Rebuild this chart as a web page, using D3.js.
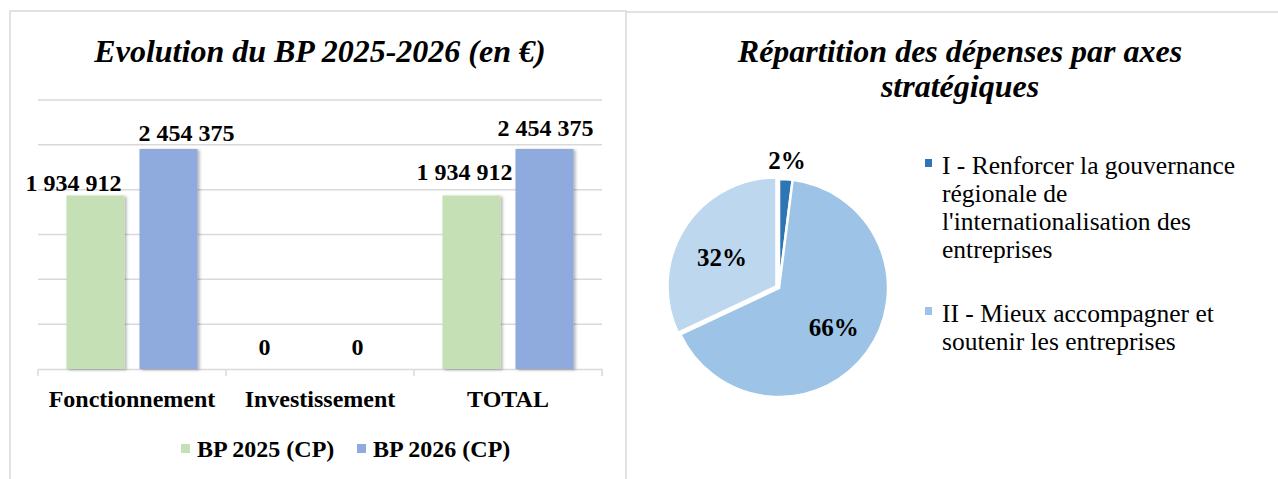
<!DOCTYPE html>
<html>
<head>
<meta charset="utf-8">
<script src="https://cdn.jsdelivr.net/npm/d3@7"></script>
<style>
  body { margin: 0; background: #fff; }
  svg { display: block; font-family: "Liberation Serif", "Times New Roman", serif; }
</style>
</head>
<body>
<div class="chart"></div>
<script>
// --- data ---
const categories = ["Fonctionnement", "Investissement", "TOTAL"];
const series = ["BP 2025 (CP)", "BP 2026 (CP)"];
const bp2025 = [1934912, 0, 1934912];
const bp2026 = [2454375, 0, 2454375];
const yTicks = [0, 500000, 1000000, 1500000, 2000000, 2500000, 3000000];

const axes = [
    "I - Renforcer la gouvernance régionale de l'internationalisation des entreprises",
    "II - Mieux accompagner et soutenir les entreprises",
    "III"
];
const axesShare = [2, 66, 32];

// label nudges [dx, dy] (Excel moved the labels by hand)
const labelNudge = [
    [[-22, -5], [18, -8]],
    [[-19, -14], [1, -14]],
    [[-7, -16], [1, -13]]
];

const barColors = ["#c5e0b4", "#8faadc"];
const pieColors = ["#2e75b6", "#9dc3e6", "#bdd7ee"];
const fmt = v => d3.format(",")(v).replace(/,/g, " ");

const svg = d3.select(".chart").append("svg")
    .attr("width", 1278)
    .attr("height", 479);

const defs = svg.append("defs");
const shadow = defs.append("filter").attr("id", "shadow")
    .attr("x", "-20%").attr("y", "-20%").attr("width", "150%").attr("height", "150%");
shadow.append("feDropShadow")
    .attr("dx", 2).attr("dy", 1).attr("stdDeviation", 1.5)
    .attr("flood-color", "#000").attr("flood-opacity", 0.3);

// panel frames
svg.append("rect")
    .attr("x", 10).attr("y", 11).attr("width", 616).attr("height", 480)
    .attr("fill", "none").attr("stroke", "#d9d9d9").attr("stroke-width", 1.5);
svg.append("line")
    .attr("x1", 626).attr("x2", 1278).attr("y1", 12).attr("y2", 12)
    .attr("stroke", "#d9d9d9").attr("stroke-width", 1.5);

// ---------- bar chart ----------
const left = svg.append("g");

left.append("text")
    .attr("x", 320).attr("y", 62)
    .attr("text-anchor", "middle")
    .attr("font-size", 32).attr("font-weight", "bold").attr("font-style", "italic")
    .text("Evolution du BP 2025-2026 (en €)");

const x0 = d3.scaleBand().domain(categories).range([38, 602]);
const x1 = d3.scaleBand().domain(series).range([0, x0.bandwidth()])
    .paddingInner(0.205).paddingOuter(0.39);
const y = d3.scaleLinear().domain([0, 3000000]).range([369, 100]);

left.append("g")
    .selectAll("line")
    .data(yTicks.slice(1))
    .enter()
    .append("line")
    .attr("x1", 38).attr("x2", 602)
    .attr("y1", d => y(d)).attr("y2", d => y(d))
    .attr("stroke", "#d9d9d9").attr("stroke-width", 1.5);

const xAxis = d3.axisBottom(x0).tickSize(0).tickFormat("");
const xg = left.append("g")
    .attr("transform", `translate(0, ${y(0)})`)
    .call(xAxis);
xg.select(".domain").attr("stroke", "#d9d9d9").attr("stroke-width", 1.5);
// category separators
xg.selectAll(".sep")
    .data(categories.map(c => x0(c)).concat([602]))
    .enter()
    .append("line")
    .attr("x1", d => d).attr("x2", d => d)
    .attr("y1", 0).attr("y2", 7)
    .attr("stroke", "#d9d9d9").attr("stroke-width", 1.5);

left.selectAll(".cat")
    .data(categories)
    .enter()
    .append("text")
    .attr("x", d => x0(d) + x0.bandwidth() / 2)
    .attr("y", 407)
    .attr("text-anchor", "middle")
    .attr("font-size", 24).attr("font-weight", "bold")
    .text(d => d);

const rows = categories.map((c, i) => ({
    cat: c, i: i,
    values: [bp2025[i], bp2026[i]]
}));

const groups = left.selectAll(".grp")
    .data(rows)
    .enter()
    .append("g")
    .attr("transform", d => `translate(${x0(d.cat)},0)`);

groups.selectAll("rect")
    .data(d => d.values.map((v, s) => ({ v, s })))
    .enter()
    .append("rect")
    .attr("x", d => x1(series[d.s]))
    .attr("width", x1.bandwidth())
    .attr("y", d => y(d.v))
    .attr("height", d => y(0) - y(d.v))
    .attr("fill", d => barColors[d.s])
    .attr("filter", d => d.v > 0 ? "url(#shadow)" : null);

groups.selectAll("text")
    .data(d => d.values.map((v, s) => ({ v, s, i: d.i })))
    .enter()
    .append("text")
    .attr("x", d => x1(series[d.s]) + x1.bandwidth() / 2 + labelNudge[d.i][d.s][0])
    .attr("y", d => y(d.v) + labelNudge[d.i][d.s][1])
    .attr("text-anchor", "middle")
    .attr("font-size", 24).attr("font-weight", "bold")
    .text(d => fmt(d.v));

// legend
const legX = [181, 357];
const leg = left.selectAll(".leg")
    .data(series)
    .enter()
    .append("g")
    .attr("transform", (d, i) => `translate(${legX[i]}, 449)`);
leg.append("rect")
    .attr("x", 0).attr("y", -5).attr("width", 9).attr("height", 9)
    .attr("fill", (d, i) => barColors[i]);
leg.append("text")
    .attr("x", 16).attr("y", 8)
    .attr("font-size", 24).attr("font-weight", "bold")
    .text(d => d);

// ---------- pie chart ----------
const right = svg.append("g");

right.selectAll(".ptitle")
    .data(["Répartition des dépenses par axes", "stratégiques"])
    .enter()
    .append("text")
    .attr("x", 960)
    .attr("y", (d, i) => 62 + i * 35)
    .attr("text-anchor", "middle")
    .attr("font-size", 32).attr("font-weight", "bold").attr("font-style", "italic")
    .text(d => d);

const cx = 779, cy = 288, r = 109;
const pie = d3.pie().sort(null).value(d => d);
const arcs = pie(axesShare);
const arc = d3.arc().innerRadius(0).outerRadius(r);
const labelArc = d3.arc().innerRadius(r * 0.62).outerRadius(r * 0.62);
const outerArc = d3.arc().innerRadius(r + 19).outerRadius(r + 19);
const explode = [0, 0, 3];

const pg = right.append("g").attr("transform", `translate(${cx},${cy})`);

pg.selectAll("path")
    .data(arcs)
    .enter()
    .append("path")
    .attr("d", arc)
    .attr("transform", (d, i) => {
        const a = (d.startAngle + d.endAngle) / 2;
        return `translate(${Math.sin(a) * explode[i]},${-Math.cos(a) * explode[i]})`;
    })
    .attr("fill", (d, i) => pieColors[i])
    .attr("stroke", "#fff").attr("stroke-width", 2.5);

pg.selectAll(".plab")
    .data(arcs)
    .enter()
    .append("text")
    .attr("transform", d => {
        const c = (d.data < 5 ? outerArc : labelArc).centroid(d);
        return `translate(${c[0]},${c[1] + (d.data > 30 && d.data < 40 ? 5 : 0)})`;
    })
    .attr("dy", "0.35em")
    .attr("text-anchor", "middle")
    .attr("font-size", 25).attr("font-weight", "bold")
    .text(d => d.data + "%");

// pie legend (wrapped as in the original)
const legendLines = [
    ["I - Renforcer la gouvernance", "régionale de", "l'internationalisation des", "entreprises"],
    ["II - Mieux accompagner et", "soutenir les entreprises"]
];
const legendTop = [174, 322];

legendLines.forEach((lines, i) => {
    const g = right.append("g").attr("transform", `translate(925, ${legendTop[i]})`);
    g.append("rect")
        .attr("x", 0).attr("y", -15).attr("width", 7).attr("height", 8)
        .attr("fill", pieColors[i]);
    g.selectAll("text")
        .data(lines)
        .enter()
        .append("text")
        .attr("x", 17)
        .attr("y", (d, k) => k * 28)
        .attr("font-size", 25.5)
        .text(d => d);
});
</script>
</body>
</html>
